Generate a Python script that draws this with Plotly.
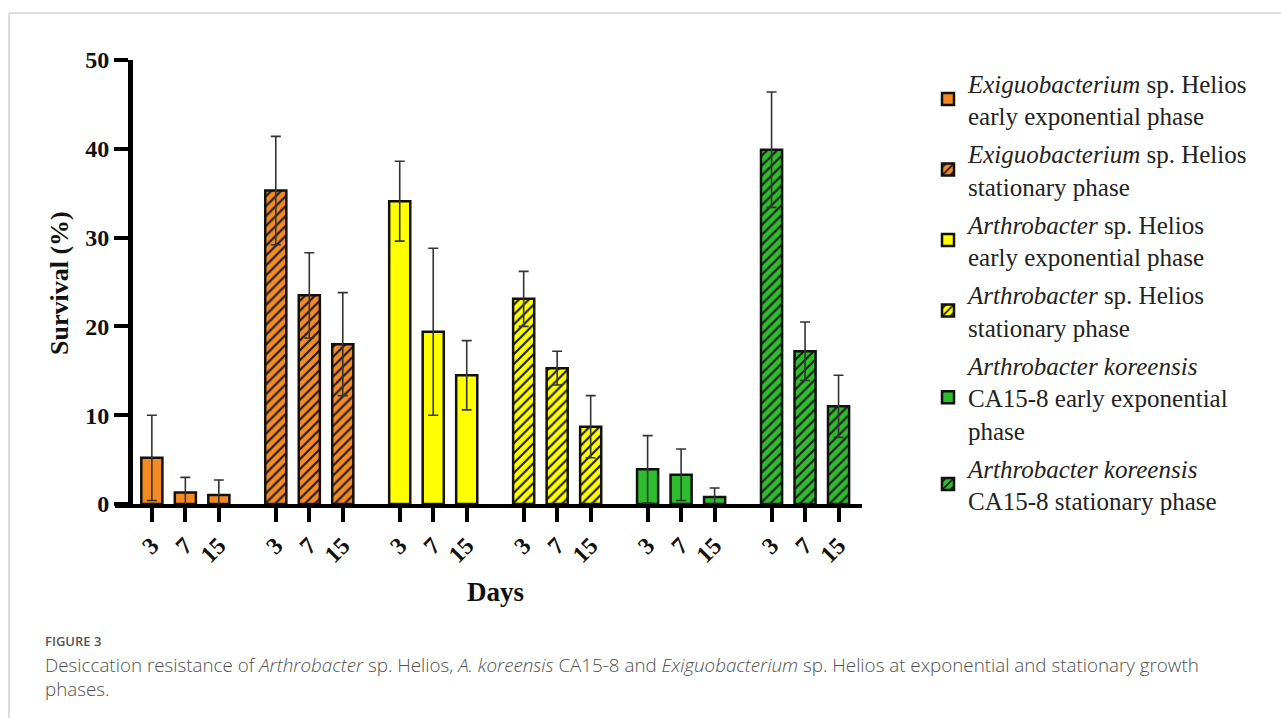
import plotly.graph_objects as go

# ---------------- data ----------------
days = ["3", "7", "15"]
series_names = [
    "<i>Exiguobacterium</i> sp. Helios<br>early exponential phase",
    "<i>Exiguobacterium</i> sp. Helios<br>stationary phase",
    "<i>Arthrobacter</i> sp. Helios<br>early exponential phase",
    "<i>Arthrobacter</i> sp. Helios<br>stationary phase",
    "<i>Arthrobacter koreensis</i><br>CA15-8 early exponential<br>phase",
    "<i>Arthrobacter koreensis</i><br>CA15-8 stationary phase",
]
exig_early = [5.2, 1.3, 1.0]
exig_stat = [35.3, 23.5, 18.0]
arth_early = [34.1, 19.4, 14.5]
arth_stat = [23.1, 15.3, 8.7]
kor_early = [3.9, 3.3, 0.8]
kor_stat = [39.9, 17.2, 11.0]

exig_early_err = [4.8, 1.7, 1.7]
exig_stat_err = [6.1, 4.8, 5.8]
arth_early_err = [4.5, 9.4, 3.9]
arth_stat_err = [3.1, 1.9, 3.5]
kor_early_err = [3.8, 2.9, 1.0]
kor_stat_err = [6.5, 3.3, 3.5]

values = [exig_early, exig_stat, arth_early, arth_stat, kor_early, kor_stat]
errors = [exig_early_err, exig_stat_err, arth_early_err, arth_stat_err, kor_early_err, kor_stat_err]

# ---------------- style ----------------
ORANGE = "#F38B22"
YELLOW = "#FFFF00"
GREEN = "#2DBD2D"
colors = [ORANGE, ORANGE, YELLOW, YELLOW, GREEN, GREEN]
hatched = [False, True, False, True, False, True]

GROUP_STEP = 3.7
SERIF = "Liberation Serif"
SANS = "Open Sans"

W, H = 1281, 718
L, R, T, B = 115, 862, 60, 504  # plot area in pixels
PW, PH = R - L, B - T


def px(xp):
    return (xp - L) / PW


def py(yp):
    return (B - yp) / PH


fig = go.Figure()
tickvals, ticktext = [], []
for g, (name, vals, errs, col, hat) in enumerate(zip(series_names, values, errors, colors, hatched)):
    xs = [g * GROUP_STEP + i for i in range(len(days))]
    tickvals += xs
    ticktext += days
    marker = dict(color=col, line=dict(color="#111111", width=2.5))
    if hat:
        marker["pattern"] = dict(shape="/", fgcolor="#1a1a1a", bgcolor=col,
                                 size=7, solidity=0.3, fillmode="replace")
    fig.add_trace(go.Bar(
        x=xs, y=vals, name=name, width=0.63, marker=marker,
        legendgroup=f"g{g}",
        error_y=dict(type="data", array=errs, visible=True,
                     color="#333333", thickness=1.6, width=5),
    ))

fig.update_layout(
    width=W, height=H,
    margin=dict(l=L, r=W - R, t=T, b=H - B, pad=0, autoexpand=False),
    paper_bgcolor="white", plot_bgcolor="white",
    showlegend=True,
    barmode="overlay",
    legend=dict(
        x=px(928), y=py(60), xanchor="left", yanchor="top",
        font=dict(family=SERIF, size=25, color="#222222"),
        valign="middle", tracegroupgap=2.5, itemwidth=30, maxheight=600,
        bgcolor="rgba(0,0,0,0)",
    ),
    xaxis=dict(
        range=[-1.1, 21.2], tickmode="array", tickvals=tickvals, ticktext=ticktext,
        tickangle=-45, ticks="outside", ticklen=14, tickwidth=4, tickcolor="black",
        showline=True, linecolor="black", linewidth=4, showgrid=False, zeroline=False,
        tickfont=dict(family=SERIF, size=24, color="#111111", weight="bold"),
    ),
    yaxis=dict(
        range=[0, 50], tickvals=[0, 10, 20, 30, 40, 50],
        anchor="free", position=px(130),
        ticks="outside", ticklen=14, tickwidth=4, tickcolor="black",
        showline=True, linecolor="black", linewidth=5, showgrid=False, zeroline=False,
        tickfont=dict(family=SERIF, size=24, color="#111111", weight="bold"),
    ),
)

# axis titles
fig.add_annotation(text="Days", xref="paper", yref="paper", x=px(495), y=py(592),
                   xanchor="center", yanchor="middle", showarrow=False,
                   font=dict(family=SERIF, size=27, color="#111111", weight="bold"))
fig.add_annotation(text="Survival (%)", xref="paper", yref="paper", x=px(59), y=py(283),
                   xanchor="center", yanchor="middle", textangle=-90, showarrow=False,
                   font=dict(family=SERIF, size=26, color="#111111", weight="bold"))

# caption
fig.add_annotation(text="FIGURE 3", xref="paper", yref="paper", x=px(43), y=py(641),
                   xanchor="left", yanchor="middle", showarrow=False,
                   font=dict(family=SANS, size=13, color="#555555", weight=600))
fig.add_annotation(
    text="Desiccation resistance of <i>Arthrobacter</i> sp. Helios, <i>A. koreensis</i> CA15-8 and "
         "<i>Exiguobacterium</i> sp. Helios at exponential and stationary growth",
    xref="paper", yref="paper", x=px(43), y=py(665), xanchor="left", yanchor="middle",
    showarrow=False, font=dict(family=SANS, size=18.8, color="#505050", weight=300))
fig.add_annotation(text="phases.", xref="paper", yref="paper", x=px(43), y=py(689),
                   xanchor="left", yanchor="middle", showarrow=False,
                   font=dict(family=SANS, size=18.8, color="#505050", weight=300))

# outer frame
fig.add_shape(type="line", xref="paper", yref="paper", x0=px(9), x1=px(1285), y0=py(13), y1=py(13),
              line=dict(color="#BBBBBB", width=1))
fig.add_shape(type="line", xref="paper", yref="paper", x0=px(9), x1=px(9), y0=py(13), y1=py(725),
              line=dict(color="#BBBBBB", width=1))

fig.write_html("out.html")
